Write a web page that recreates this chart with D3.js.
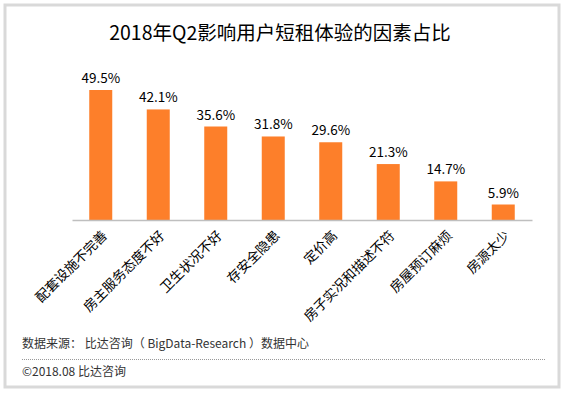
<!DOCTYPE html>
<html>
<head>
<meta charset="utf-8">
<script src="https://cdn.jsdelivr.net/npm/d3@7"></script>
<style>
  body { margin: 0; background: #fff; }
  svg text { font-family: "Noto Sans CJK SC", "Noto Sans", sans-serif; }
</style>
</head>
<body>
<div id="chart"></div>
<script>
// data
var categories = ["配套设施不完善", "房主服务态度不好", "卫生状况不好", "存安全隐患", "定价高", "房子实况和描述不符", "房屋预订麻烦", "房源太少"];
var values = [49.5, 42.1, 35.6, 31.8, 29.6, 21.3, 14.7, 5.9];
var title = "2018年Q2影响用户短租体验的因素占比";
var source = "数据来源： 比达咨询（ BigData-Research ）数据中心";
var copyright = "©2018.08  比达咨询";

var svg = d3.select("#chart").append("svg").attr("width", 565).attr("height", 393);

// frame
svg.append("rect")
    .attr("x", 5).attr("y", 5)
    .attr("width", 554).attr("height", 382)
    .attr("fill", "#fff")
    .attr("stroke", "#d9d9d9")
    .attr("stroke-width", 3);

svg.append("text")
    .attr("x", 280).attr("y", 40)
    .attr("text-anchor", "middle")
    .style("font-size", "19.5px")
    .attr("fill", "#000")
    .text(title);

var x = d3.scaleBand()
    .domain(categories)
    .range([72, 532])
    .paddingInner(0.6)
    .paddingOuter(0.3);

var baseY = 220;
var y = d3.scaleLinear()
    .domain([0, 49.5])
    .range([baseY, 90]);

var g = svg.append("g");

g.selectAll("rect.bar")
    .data(values)
    .enter().append("rect")
    .attr("class", "bar")
    .attr("x", function (d, i) { return x(categories[i]); })
    .attr("width", x.bandwidth())
    .attr("y", function (d) { return y(d); })
    .attr("height", function (d) { return baseY - y(d); })
    .attr("fill", "#fd7f2a");

g.selectAll("text.val")
    .data(values)
    .enter().append("text")
    .attr("class", "val")
    .attr("x", function (d, i) { return x(categories[i]) + x.bandwidth() / 2; })
    .attr("y", function (d) { return y(d) - 7; })
    .attr("text-anchor", "middle")
    .style("font-size", "13.5px")
    .attr("fill", "#000")
    .text(function (d) { return d.toFixed(1) + "%"; });

// axis line
var xAxis = svg.append("g")
    .attr("transform", "translate(0," + baseY + ")")
    .call(d3.axisBottom(x).tickSize(0).tickFormat(""));
xAxis.select(".domain").attr("stroke", "#bfbfbf").attr("stroke-width", 1.5);

// rotated category labels
svg.selectAll("text.cat")
    .data(categories)
    .enter().append("text")
    .attr("class", "cat")
    .attr("transform", function (d) {
        return "translate(" + (x(d) + x.bandwidth() / 2 + 4) + "," + (baseY + 13) + ") rotate(-45)";
    })
    .attr("text-anchor", "end")
    .attr("dy", "0.35em")
    .style("font-size", "13.5px")
    .attr("fill", "#000")
    .text(function (d) { return d; });

// footer
svg.append("text")
    .attr("x", 22).attr("y", 348)
    .style("font-size", "12px")
    .attr("fill", "#333")
    .text(source);

svg.append("line")
    .attr("x1", 22).attr("x2", 545)
    .attr("y1", 359.5).attr("y2", 359.5)
    .attr("stroke", "#999")
    .attr("stroke-width", 1)
    .attr("stroke-dasharray", "1,1");

svg.append("text")
    .attr("x", 22).attr("y", 376)
    .style("font-size", "12px")
    .attr("fill", "#333")
    .text(copyright);
</script>
</body>
</html>
